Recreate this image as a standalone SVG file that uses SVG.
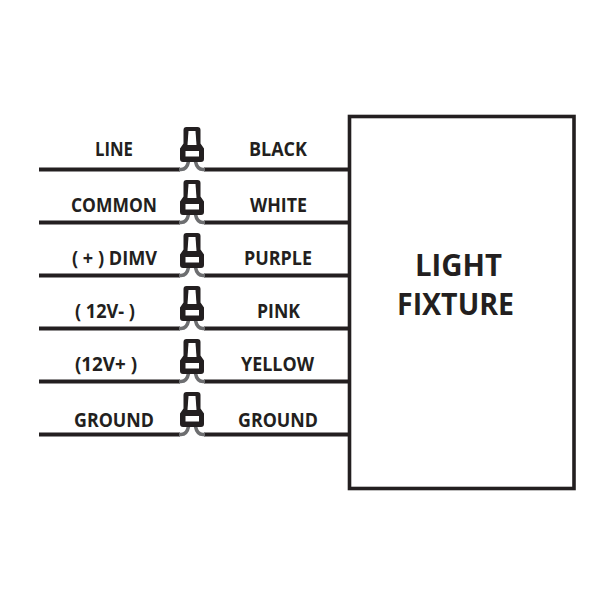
<svg xmlns="http://www.w3.org/2000/svg" width="608" height="608" viewBox="0 0 608 608">
<style>
text{font-family:"Open Sans","Liberation Sans",sans-serif;font-weight:700;fill:#231f20;text-anchor:middle}
.l{font-size:20px}
.t{font-size:30px}
.w{fill:none;stroke:#231f20;stroke-width:3.800}
.g{fill:none;stroke:#6d6e70;stroke-width:3.600}
.b{fill:#231f20}
.h{fill:#fff}
</style>
<defs>
<g id="wn">
<path class="g" d="M179 169.500h2q6 0 7.500-8"/>
<path class="g" d="M205 169.500h-2q-6 0-7.500-8"/>
<path class="b" d="M186.500 127h11q3 0 3 3v13.500l3.500 5v10.500q0 3-3 3h-18q-3 0-3-3v-10.500l3.500-5v-13.500q0-3 3-3z"/>
<path class="h" d="M188.500 131h7l1 14h-9z"/>
<rect class="h" x="185.500" y="151" width="13.500" height="5.500"/>
</g>
</defs>
<g id="connectors">
<path class="w" d="M39 169.500h141M204 169.500h145M39 222.500h141M204 222.500h145M39 275.500h141M204 275.500h145M39 328.500h141M204 328.500h145M39 381.500h141M204 381.500h145M39 434.500h141M204 434.500h145"/>
</g>
<g id="nut1"><use href="#wn"/></g>
<g id="nut2"><use href="#wn" y="53"/></g>
<g id="nut3"><use href="#wn" y="106"/></g>
<g id="nut4"><use href="#wn" y="159"/></g>
<g id="nut5"><use href="#wn" y="212"/></g>
<g id="nut6"><use href="#wn" y="265"/></g>
<g id="fixture">
<rect x="349.500" y="116.500" width="224.500" height="372" fill="#fff" stroke="#231f20" stroke-width="3.600"/>
<text class="t" x="458.500" y="276" textLength="87" lengthAdjust="spacingAndGlyphs">LIGHT</text>
<text class="t" x="455.500" y="315" textLength="117" lengthAdjust="spacingAndGlyphs">FIXTURE</text>
</g>
<g id="labels">
<text class="l" x="114" y="155.500" textLength="38" lengthAdjust="spacingAndGlyphs">LINE</text>
<text class="l" x="278" y="155.500" textLength="58" lengthAdjust="spacingAndGlyphs">BLACK</text>
<text class="l" x="114" y="211.500" textLength="86" lengthAdjust="spacingAndGlyphs">COMMON</text>
<text class="l" x="278.500" y="211.500" textLength="57" lengthAdjust="spacingAndGlyphs">WHITE</text>
<text class="l" x="114.500" y="264.500" textLength="85" lengthAdjust="spacingAndGlyphs">( + ) DIMV</text>
<text class="l" x="278" y="264.500" textLength="68" lengthAdjust="spacingAndGlyphs">PURPLE</text>
<text class="l" x="105" y="317.500" textLength="60" lengthAdjust="spacingAndGlyphs">( 12V- )</text>
<text class="l" x="278.500" y="317.500" textLength="43" lengthAdjust="spacingAndGlyphs">PINK</text>
<text class="l" x="106" y="371" textLength="62" lengthAdjust="spacingAndGlyphs">(12V+ )</text>
<text class="l" x="277.500" y="371" textLength="73" lengthAdjust="spacingAndGlyphs">YELLOW</text>
<text class="l" x="114" y="427" textLength="80" lengthAdjust="spacingAndGlyphs">GROUND</text>
<text class="l" x="278" y="427" textLength="80" lengthAdjust="spacingAndGlyphs">GROUND</text>
</g>
</svg>
